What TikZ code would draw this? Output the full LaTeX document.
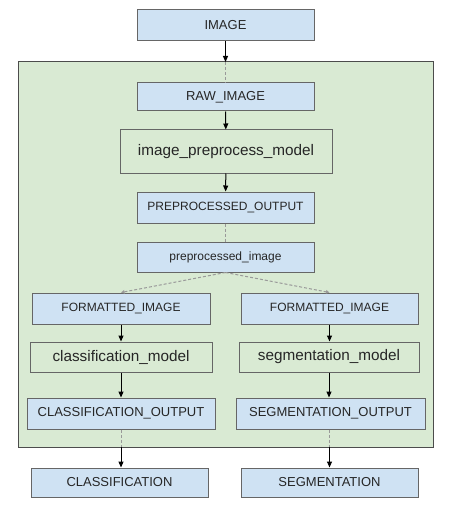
\documentclass[tikz,border=0pt]{standalone}
\usepackage{fontspec}
\setmainfont{Liberation Sans}
\usepackage{tikz}
\usetikzlibrary{arrows.meta,calc}
\definecolor{boxblue}{HTML}{CFE2F3}
\definecolor{boxgreen}{HTML}{D9EAD3}
\definecolor{edgegray}{HTML}{666666}
\tikzset{tensor/.style={draw=edgegray,fill=boxblue,text=black!85,line width=1pt,inner sep=0pt,minimum width=177pt,minimum height=30pt,font=\fontsize{12}{14}\selectfont}}
\tikzset{model/.style={draw=edgegray,fill=boxgreen,text=black!85,line width=1pt,inner sep=0pt,minimum height=30pt,font=\fontsize{15.3}{18}\selectfont}}

\begin{document}
\begin{tikzpicture}
[x=1pt, y=-1pt, flow/.style={line width=1pt,-{Triangle[length=6pt,width=5pt]}},
 link/.style={draw=black!40,line width=1pt,dash pattern=on 3pt off 2pt}]
\useasboundingbox (0,0) rectangle (448,505);
% ensemble container
\draw[draw=black!70,fill=boxgreen,line width=1pt] (18,62) rectangle (433,447);
\coordinate (inport) at (225.5,62);
\coordinate (outl) at (121,447);
\coordinate (outr) at (329.5,447);

\node (img) at (225.5,25.5)[tensor,minimum height=31pt,font=\fontsize{13}{15}\selectfont]{IMAGE};
\node (raw) at (225.5,97)[tensor,minimum height=28pt,font=\fontsize{13}{15}\selectfont]{RAW\_IMAGE};
\node (prep) at (226,151.5)[model,minimum width=212pt,minimum height=43pt]{image\_preprocess\_model};
\node (pout) at (225.5,207.5)[tensor,minimum height=31pt]{PREPROCESSED\_OUTPUT};
\node (pimg) at (225.5,257)[tensor]{preprocessed\_image};
\node (fl) at (121,308.5)[tensor,minimum width=178pt,minimum height=31pt]{FORMATTED\_IMAGE};
\node (fr) at (329.5,308.5)[tensor,minimum height=31pt]{FORMATTED\_IMAGE};
\node (cm) at (121,357)[model,minimum width=182pt]{classification\_model};
\node (sm) at (329,357)[model,minimum width=180pt]{segmentation\_model};
\node (co) at (121,413.5)[tensor,minimum width=188pt,minimum height=31pt,font=\fontsize{13}{15}\selectfont]{CLASSIFICATION\_OUTPUT};
\node (so) at (330.5,413.5)[tensor,minimum width=189pt,minimum height=31pt,font=\fontsize{13}{15}\selectfont]{SEGMENTATION\_OUTPUT};
\node (cls) at (119.5,482.5)[tensor,minimum height=29pt,font=\fontsize{13}{15}\selectfont]{CLASSIFICATION};
\node (seg) at (329.5,482.5)[tensor,minimum height=29pt,font=\fontsize{13}{15}\selectfont]{SEGMENTATION};

\draw[flow] (img) -- (inport);
\draw[link] (inport) -- (raw);
\draw[flow] (raw) -- (prep);
\draw[flow] (prep) -- (pout);
\draw[link] (pout) -- (pimg);
\draw[link,-{Triangle[length=3.5pt,width=3.5pt]}] (pimg.south) -- (fl.north);
\draw[link,-{Triangle[length=3.5pt,width=3.5pt]}] (pimg.south) -- (fr.north);
\draw[flow] (fl) -- (cm);
\draw[flow] (fr) -- (fr |- sm.north);
\draw[flow] (cm) -- (co);
\draw[flow] (sm) -- (sm |- so.north);
\draw[link] (co) -- (outl);
\draw[link] (so.south -| outr) -- (outr);
\draw[flow] (outl) -- (outl |- cls.north);
\draw[flow] (outr) -- (seg);
\end{tikzpicture}
\end{document}
